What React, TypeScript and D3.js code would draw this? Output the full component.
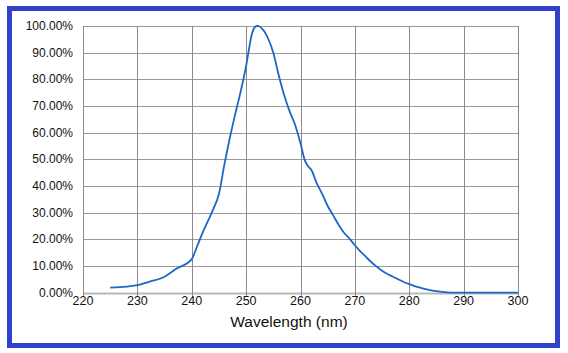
import React, { useEffect, useRef } from 'react';
import * as d3 from 'd3';

// wavelength (nm) and relative absorbance (%)
const wavelengths = [
  225, 228, 230, 232, 235, 237, 240, 241, 242, 243, 244, 245, 246, 247, 248, 249,
  250, 250.5, 251, 251.5, 252, 252.5, 253, 253.5, 254, 255, 256, 257, 258, 259, 260, 260.8,
  261.3, 262, 263, 264, 265, 266, 267, 268, 269, 270, 271, 272, 273, 274, 275, 276,
  277, 278, 279, 280, 281, 282, 283, 284, 285, 286, 287, 288, 290, 295, 300,
];
const percents = [
  1.9, 2.3, 2.8, 4.0, 6.0, 8.8, 12.6, 17.5, 22.5, 27, 31.5, 37, 48, 58, 67, 75.5,
  85, 91, 96.5, 99.3, 100, 99.8, 98.8, 97.5, 95.5, 90, 81.5, 74, 68, 63, 56, 49.6,
  47.7, 46, 41, 37, 32.5, 29, 25.5, 22.5, 20.3, 17.8, 15.5, 13.5, 11.5, 9.8, 8.2, 7,
  6, 5, 4, 3.2, 2.5, 1.9, 1.3, 0.9, 0.6, 0.3, 0.1, 0, 0, 0, 0,
];
const xTicks = [220, 230, 240, 250, 260, 270, 280, 290, 300];
const yTicks = [0, 10, 20, 30, 40, 50, 60, 70, 80, 90, 100];

const W = 568;
const H = 353;
const margin = { left: 83, right: 50, top: 26, bottom: 61 };

const App = () => {
  const svgRef = useRef<SVGSVGElement>(null);

  useEffect(() => {
    const svg = d3.select(svgRef.current);
    svg.selectAll('*').remove();

    const x = d3.scaleLinear().domain([220, 300]).range([margin.left, W - margin.right]);
    const y = d3.scaleLinear().domain([0, 100]).range([H - margin.bottom + 0.7, margin.top]);

    svg.append('rect').attr('width', W).attr('height', H).attr('fill', '#fff');

    // frame
    svg.append('rect')
      .attr('x', 9.5).attr('y', 8.5).attr('width', 548).attr('height', 337)
      .attr('fill', 'none').attr('stroke', '#3341c9').attr('stroke-width', 5);

    const font = 'Arial, "Liberation Sans", Helvetica, sans-serif';

    // horizontal grid
    svg.append('g').selectAll('line')
      .data(yTicks)
      .enter()
      .append('line')
      .attr('x1', x(220)).attr('x2', x(300))
      .attr('y1', (d) => Math.round(y(d)) + 0.5).attr('y2', (d) => Math.round(y(d)) + 0.5)
      .attr('stroke', (d) => (d === 0 ? '#b8b8b8' : '#9a9a9a'))
      .attr('stroke-width', (d) => (d === 0 ? 2 : 1));

    // vertical grid
    svg.append('g').selectAll('line')
      .data(xTicks)
      .enter()
      .append('line')
      .attr('x1', (d) => Math.round(x(d)) + 0.5).attr('x2', (d) => Math.round(x(d)) + 0.5)
      .attr('y1', y(100)).attr('y2', y(0) + 4)
      .attr('stroke', '#8a8a8a').attr('stroke-width', 1);

    // y labels
    svg.append('g').selectAll('text')
      .data(yTicks)
      .enter()
      .append('text')
      .attr('x', 73).attr('y', (d) => y(d) + 4)
      .attr('text-anchor', 'end')
      .attr('font-family', font).attr('font-size', 12).attr('fill', '#111')
      .text((d) => d.toFixed(2) + '%');

    // x labels
    svg.append('g').selectAll('text')
      .data(xTicks)
      .enter()
      .append('text')
      .attr('x', (d) => x(d)).attr('y', 305)
      .attr('text-anchor', 'middle')
      .attr('font-family', font).attr('font-size', 12.5).attr('fill', '#111')
      .text((d) => d);

    svg.append('text')
      .attr('x', 289).attr('y', 327)
      .attr('text-anchor', 'middle')
      .attr('font-family', font).attr('font-size', 15.5).attr('fill', '#111')
      .text('Wavelength (nm)');

    const line = d3.line<number>()
      .x((d, i) => x(wavelengths[i]))
      .y((d) => y(d))
      .curve(d3.curveMonotoneX);

    svg.append('path')
      .datum(percents)
      .attr('d', line)
      .attr('fill', 'none')
      .attr('stroke', '#1c68c4')
      .attr('stroke-width', 1.8)
      .attr('stroke-linejoin', 'round');
  }, []);

  return (
    <svg
      ref={svgRef}
      width={W}
      height={H}
      style={{ position: 'absolute', left: 0, top: 0 }}
    ></svg>
  );
};

export default App;
